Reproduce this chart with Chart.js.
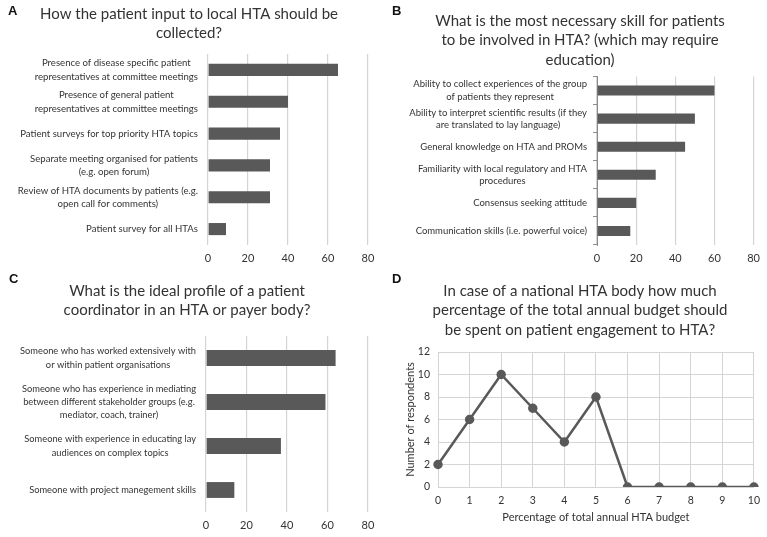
<!DOCTYPE html>
<html>
<head>
<meta charset="utf-8">
<script src="https://cdn.jsdelivr.net/npm/chart.js@4.4.0/dist/chart.umd.min.js"></script>
<style>
  body { margin: 0; background: #fff; width: 767px; height: 537px; overflow: hidden; position: relative; font-family: Lato, sans-serif; }
  .panel { position: absolute; }
  .tag { position: absolute; font: bold 13px "Liberation Sans", Arial, sans-serif; color: #111; }
</style>
</head>
<body>
<div class="panel" style="left:0;top:0;width:384px;height:270px"><canvas id="chartA"></canvas></div>
<div class="panel" style="left:384px;top:0;width:383px;height:270px"><canvas id="chartB"></canvas></div>
<div class="panel" style="left:0;top:270px;width:384px;height:267px"><canvas id="chartC"></canvas></div>
<div class="panel" style="left:384px;top:270px;width:383px;height:267px"><canvas id="chartD"></canvas></div>
<div class="tag" style="left:8px;top:3px">A</div>
<div class="tag" style="left:392px;top:3px">B</div>
<div class="tag" style="left:9px;top:271px">C</div>
<div class="tag" style="left:392px;top:271px">D</div>
<script>
// Panel A - how patient input should be collected
const catsA = [
  ['Presence of disease specific patient', 'representatives at committee meetings'],
  ['Presence of general patient', 'representatives at committee meetings'],
  'Patient surveys for top priority HTA topics',
  ['Separate meeting organised for patients', '(e.g. open forum)'],
  ['Review of HTA documents by patients (e.g.', 'open call for comments)'],
  'Patient survey for all HTAs'
];
const valsA = [65, 40, 36, 31, 31, 9];

// Panel B - most necessary skill
const catsB = [
  ['Ability to collect experiences of the group', 'of patients they represent'],
  ['Ability to interpret scientific results (if they', 'are translated to lay language)'],
  'General knowledge on HTA and PROMs',
  ['Familiarity with local regulatory and HTA', 'procedures'],
  'Consensus seeking attitude',
  'Communication skills (i.e. powerful voice)'
];
const valsB = [60, 50, 45, 30, 20, 17];

// Panel C - ideal profile of a patient coordinator
const catsC = [
  ['Someone who has worked extensively with', 'or within patient organisations'],
  ['Someone who has experience in mediating', 'between different stakeholder groups (e.g.', 'mediator, coach, trainer)'],
  ['Someone with experience in educating lay', 'audiences on complex topics'],
  'Someone with project manegement skills'
];
const valsC = [64, 59, 37, 14];

// Panel D - share of annual budget
const budgetPct = ['0', '1', '2', '3', '4', '5', '6', '7', '8', '9', '10'];
const respondents = [2, 6, 10, 7, 4, 8, 0, 0, 0, 0, 0];

const barTicks = [0, 20, 40, 60, 80];

const GREY = '#595959';
const GRID = '#d4d4d4';
const TEXT = '#333333';
const FONT = 'Lato, sans-serif';

// Excel-style category labels: block right aligned to the axis, lines centred in the block
const centredLabels = {
  id: 'centredLabels',
  afterDraw(chart, args, o) {
    const ctx = chart.ctx;
    const y = chart.scales.y;
    ctx.save();
    ctx.font = o.size + 'px ' + FONT;
    ctx.fillStyle = TEXT;
    ctx.textAlign = 'center';
    ctx.textBaseline = 'middle';
    chart.data.labels.forEach((lab, i) => {
      const lines = Array.isArray(lab) ? lab : [lab];
      const w = Math.max(...lines.map(l => ctx.measureText(l).width));
      const cx = chart.chartArea.left - o.gap - w / 2;
      const cy = y.getPixelForTick(i);
      const lh = o.size * o.lh;
      lines.forEach((l, k) => ctx.fillText(l, cx, cy + (k - (lines.length - 1) / 2) * lh));
    });
    ctx.restore();
  }
};

function barChart(id, cats, vals, title, opt) {
  new Chart(document.getElementById(id), {
    type: 'bar',
    data: {
      labels: cats,
      datasets: [{ data: vals, backgroundColor: GREY, barPercentage: opt.bar, categoryPercentage: 1 }]
    },
    plugins: [centredLabels],
    options: {
      indexAxis: 'y',
      responsive: true,
      maintainAspectRatio: false,
      animation: false,
      layout: { padding: { left: opt.padLeft, right: opt.right, top: 0, bottom: 0 } },
      plugins: {
        legend: { display: false },
        tooltip: { enabled: false },
        centredLabels: { size: opt.labelSize, lh: opt.labelLH, gap: opt.axisTicks ? 10 : 10 },
        title: {
          display: true,
          text: title,
          color: TEXT,
          font: { family: FONT, size: 15, weight: 'normal', lineHeight: 1.3 },
          padding: { top: opt.titleTop, bottom: opt.titleBottom }
        }
      },
      scales: {
        x: {
          min: barTicks[0],
          max: barTicks[barTicks.length - 1],
          afterBuildTicks: s => { s.ticks = barTicks.map(v => ({ value: v })); },
          afterFit: s => { s.height = 25; },
          grid: { color: GRID, lineWidth: 1.2, drawTicks: false },
          border: { display: false },
          ticks: { color: TEXT, font: { family: FONT, size: 11 }, padding: 7 }
        },
        y: {
          afterFit: s => { s.width = opt.left - opt.padLeft; },
          grid: opt.axisTicks
            ? { display: true, drawOnChartArea: false, offset: true, tickLength: 4, color: '#8c8c8c' }
            : { display: false },
          border: opt.axisTicks ? { display: true, color: '#8c8c8c', width: 1 } : { display: false },
          ticks: { display: false }
        }
      }
    }
  });
}

barChart('chartA', catsA, valsA, ['How the patient input to local HTA should be', 'collected?'],
  { bar: 0.38, right: 16, left: 208, padLeft: 10, titleTop: 4, titleBottom: 11, labelSize: 9.6, labelLH: 1.4 });
barChart('chartB', catsB, valsB, ['What is the most necessary skill for patients', 'to be involved in HTA? (which may require', 'education)'],
  { bar: 0.36, right: 9, left: 213, padLeft: 18, titleTop: 11, titleBottom: 7, labelSize: 9.5, labelLH: 1.3, axisTicks: true });
barChart('chartC', catsC, valsC, ['What is the ideal profile of a patient', 'coordinator in an HTA or payer body?'],
  { bar: 0.36, right: 16, left: 206, padLeft: 6, titleTop: 11, titleBottom: 16, labelSize: 9.3, labelLH: 1.42 });

new Chart(document.getElementById('chartD'), {
  type: 'line',
  data: {
    labels: budgetPct,
    datasets: [{
      data: respondents,
      borderColor: GREY,
      backgroundColor: GREY,
      borderWidth: 2.5,
      pointRadius: 3.5,
      pointBackgroundColor: GREY,
      tension: 0
    }]
  },
  options: {
    responsive: true,
    maintainAspectRatio: false,
    animation: false,
    layout: { padding: { left: 20, right: 11, top: 0, bottom: 13 } },
    plugins: {
      legend: { display: false },
      tooltip: { enabled: false },
      title: {
        display: true,
        text: ['In case of a national HTA body how much', 'percentage of the total annual budget should', 'be spent on patient engagement to HTA?'],
        color: TEXT,
        font: { family: FONT, size: 15, weight: 'normal', lineHeight: 1.3 },
        padding: { top: 11, bottom: 12.5 }
      }
    },
    scales: {
      x: {
        offset: false,
        afterFit: s => { s.height = 37; },
        grid: { color: GRID, drawTicks: false },
        border: { color: GRID },
        ticks: { color: TEXT, font: { family: FONT, size: 10.5 }, padding: 7 },
        title: { display: true, text: 'Percentage of total annual HTA budget', color: TEXT, font: { family: FONT, size: 11 }, padding: { top: 4, bottom: 0 } }
      },
      y: {
        min: 0,
        max: 12,
        ticks: { stepSize: 2, color: TEXT, font: { family: FONT, size: 10.5 }, padding: 8 },
        afterFit: s => { s.width = 34; },
        grid: { color: GRID, drawTicks: false },
        border: { color: GRID },
        title: { display: true, text: 'Number of respondents', color: TEXT, font: { family: FONT, size: 11 }, padding: { top: 0, bottom: 0 } }
      }
    }
  }
});
</script>
</body>
</html>
